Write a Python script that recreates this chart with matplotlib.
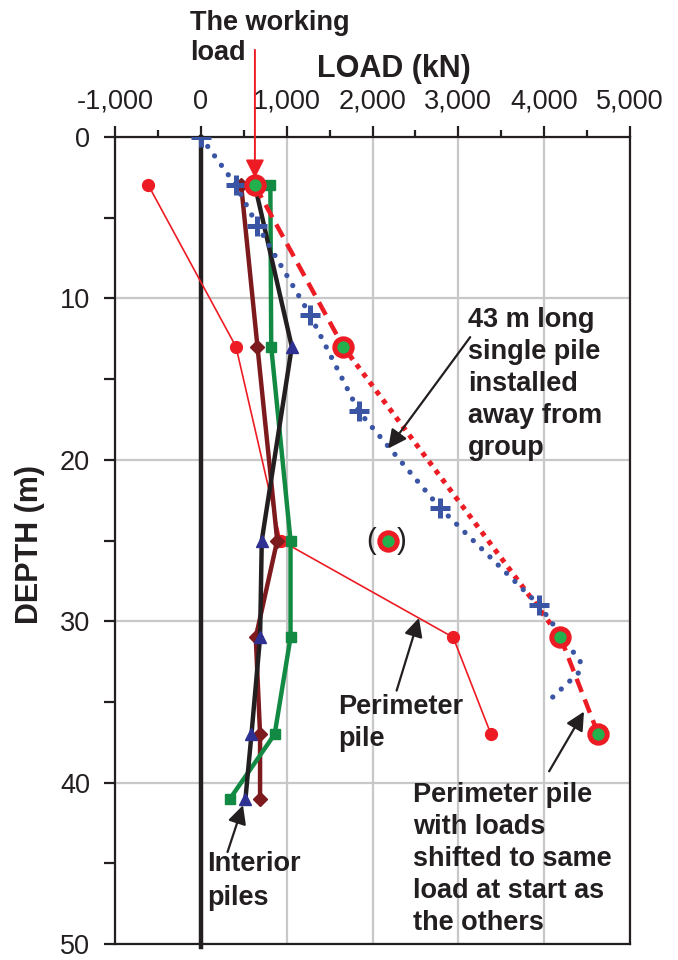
import matplotlib
matplotlib.use("Agg")
import matplotlib.pyplot as plt

plt.rcParams["font.family"] = ["Liberation Sans", "DejaVu Sans"]

# ---- data -------------------------------------------------------------
load_ticks = [-1000, 0, 1000, 2000, 3000, 4000, 5000]
load_tick_labels = ["-1,000", "0", "1,000", "2,000", "3,000", "4,000", "5,000"]
depth_ticks = [0, 10, 20, 30, 40, 50]

# 43 m long single pile away from the group
single_depth = [0, 3, 5.5, 11, 17, 23, 29]
single_load = [0, 410, 660, 1270, 1840, 2790, 3940]
single_toe_depth = [29, 32.5, 33.2, 35.0]
single_toe_load = [3940, 4420, 4400, 4040]

# perimeter pile, as measured
perim_depth = [3, 13, 25, 31, 37]
perim_load = [-610, 410, 930, 2940, 3380]

# perimeter pile shifted to the common start load
shift_depth = [3, 13, 25, 31, 37]
shift_load = [630, 1660, 2180, 4190, 4630]

# interior piles
int_depth = [3, 13, 25, 31, 37, 41]
int_a_load = [470, 660, 890, 640, 690, 690]     # dark red diamonds
int_b_load = [810, 820, 1045, 1045, 860, 340]   # green squares
int_c_load = [630, 1060, 710, 690, 590, 520]    # black line, blue triangles

working_load = 630

# ---- figure -----------------------------------------------------------
W, H = 678, 960
fig = plt.figure(figsize=(W / 100, H / 100), dpi=100)
ax = fig.add_axes([115 / W, 1 - 944 / H, (630 - 115) / W, (944 - 137) / H])

ink = "#231f20"
red = "#ed1c24"
blue = "#3b55a5"
green = "#138a43"
maroon = "#7d1a1d"
navy = "#2e3192"
grid_c = "#c8c8c8"


def fpx(x, y):
    return x / W, 1 - y / H


ax.set_xlim(-1000, 5000)
ax.set_ylim(50, 0)
ax.xaxis.tick_top()
ax.set_xticks(load_ticks)
ax.set_xticklabels(load_tick_labels)
ax.set_xticks([t + 500 for t in load_ticks[:-1]], minor=True)
ax.set_yticks(depth_ticks)
ax.set_yticks([d + 5 for d in depth_ticks[:-1]], minor=True)
ax.tick_params(axis="x", which="major", direction="out", length=8, width=1.6,
               labelsize=19.5, pad=8, colors=ink, top=True, bottom=False)
ax.tick_params(axis="x", which="minor", direction="out", length=5, width=1.6,
               top=True, bottom=False, colors=ink)
ax.tick_params(axis="y", which="both", direction="out", length=8, width=1.6,
               labelsize=19.5, pad=10, colors=ink, right=False)
for s in ax.spines.values():
    s.set_linewidth(1.6)
    s.set_color(ink)

ax.grid(True, which="major", color=grid_c, lw=1.6)
ax.set_axisbelow(True)

# zero-load reference line
ax.plot([0, 0], [0, 50.2], color=ink, lw=3.2, clip_on=False, zorder=2)

# perimeter pile (measured)
ax.plot(perim_load, perim_depth, color=red, lw=1.2, marker="o", ms=8.5,
        mec=red, mfc=red, zorder=3)

# interior piles
ax.plot(int_a_load, int_depth, color=maroon, lw=3.2, marker="D", ms=7, zorder=4)
ax.plot(int_b_load, int_depth, color=green, lw=3.2, marker="s", ms=7.5, zorder=5)
ax.plot(int_c_load, int_depth, color=ink, lw=3.2, zorder=6)
ax.plot(int_c_load[1:], int_depth[1:], ls="none", marker="^", ms=9,
        color=navy, zorder=6)

# shifted perimeter pile: dashed, dotted across the bracketed point, dashed
ax.plot(shift_load[0:2], shift_depth[0:2], color=red, lw=3.2,
        ls=(0, (3.2, 1.8)), zorder=7)
ax.plot([shift_load[1], shift_load[3]], [shift_depth[1], shift_depth[3]],
        color=red, lw=3.6, ls=(0, (1, 1.2)), zorder=7)
ax.plot(shift_load[3:5], shift_depth[3:5], color=red, lw=3.2,
        ls=(0, (3.2, 1.8)), zorder=7)

# single pile
ax.plot(single_toe_load, single_toe_depth, color=blue, lw=3.8,
        ls=(0, (0.01, 2.2)), dash_capstyle="round", zorder=8)
ax.plot(single_load, single_depth, color=blue, lw=3.8, ls=(0, (0.01, 2.2)),
        dash_capstyle="round", marker="+", ms=15, mew=3.6, zorder=8)

ax.plot(shift_load, shift_depth, ls="none", marker="o", ms=12.5, mew=3.6,
        mec=red, mfc="#22b14c", zorder=9)

# ---- annotations ------------------------------------------------------
arrow = dict(arrowstyle="-|>", color=ink, lw=1.6, mutation_scale=28,
             shrinkA=0, shrinkB=0)
ax.annotate("", xy=(2183, 19.3), xytext=(3138, 12.4), arrowprops=arrow,
            zorder=10)
ax.annotate("", xy=(2541, 29.8), xytext=(2281, 34.3), arrowprops=arrow,
            zorder=10)
ax.annotate("", xy=(4464, 35.6), xytext=(4058, 39.3), arrowprops=arrow,
            zorder=10)
ax.annotate("", xy=(491, 41.4), xytext=(311, 44.3), arrowprops=arrow,
            zorder=10)
ax.annotate("", xy=(working_load, 2.55), xytext=(working_load, -5.4),
            arrowprops=dict(arrowstyle="-|>", color=red, lw=1.4,
                            mutation_scale=28, shrinkA=0, shrinkB=0),
            annotation_clip=False, zorder=10)


def lines(x, baselines, texts, size=19.5, weight="bold"):
    for b, t in zip(baselines, texts):
        fig.text(*fpx(x, b), t, fontsize=size, fontweight=weight,
                 ha="left", va="baseline", color=ink)


lines(190, [30, 60], ["The working", "load"])
lines(468, [327, 359, 391, 423, 455],
      ["43 m long", "single pile", "installed", "away from", "group"])
lines(338, [714, 746], ["Perimeter", "pile"])
lines(413, [802, 834, 866, 898, 930],
      ["Perimeter pile", "with loads", "shifted to same",
       "load at start as", "the others"])
lines(207, [871, 905], ["Interior", "piles"])

fig.text(*fpx(371, 541), "(", fontsize=21, ha="center", va="center", color=ink)
fig.text(*fpx(402, 541), ")", fontsize=21, ha="center", va="center", color=ink)

fig.text(*fpx(394, 77), "LOAD (kN)", fontsize=22, fontweight="bold",
         ha="center", va="baseline", color=ink)
fig.text(*fpx(30, 545), "DEPTH (m)", fontsize=22, fontweight="bold",
         rotation=90, ha="center", va="center", color=ink)

fig.savefig("out.png", dpi=100)
